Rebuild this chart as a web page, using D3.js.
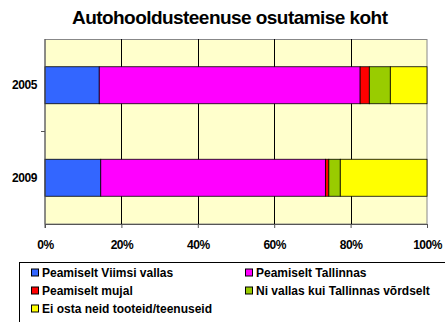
<!DOCTYPE html>
<html>
<head>
<meta charset="utf-8">
<script src="https://cdn.jsdelivr.net/npm/d3@7"></script>
<style>
  html, body { margin: 0; padding: 0; background: #fff; }
  svg { display: block; font-family: "Liberation Sans", Arial, sans-serif; }
</style>
</head>
<body>
<svg id="chart" width="445" height="322"></svg>
<script>
// Survey shares (%) per year
const years = ["2005", "2009"];
const seriesNames = [
  "Peamiselt Viimsi vallas",
  "Peamiselt Tallinnas",
  "Peamiselt mujal",
  "Ni vallas kui Tallinnas võrdselt",
  "Ei osta neid tooteid/teenuseid"
];
const viimsi   = [14.2, 14.6];
const tallinn  = [68.3, 58.8];
const mujal    = [2.4, 0.9];
const vordselt = [5.5, 3.0];
const eiOsta   = [9.6, 22.7];
const tickValues = [0, 20, 40, 60, 80, 100];
const colors = ["#3366FF", "#FF00FF", "#FF0000", "#99CC00", "#FFFF00"];

const seriesValues = [viimsi, tallinn, mujal, vordselt, eiOsta];
const rows = years.map((y, i) => {
  const r = { year: y };
  seriesNames.forEach((s, k) => { r[s] = seriesValues[k][i]; });
  return r;
});

const svg = d3.select("#chart");
const plot = { left: 45, right: 427, top: 39, bottom: 224 };

const x = d3.scaleLinear().domain([0, 100]).range([plot.left, plot.right]);
const y = d3.scaleBand().domain(years).range([plot.top, plot.bottom]).paddingInner(0.6).paddingOuter(0.3);
const band = d3.scaleBand().domain(years).range([plot.top, plot.bottom]);

// Title
svg.append("text")
  .attr("x", 230).attr("y", 24)
  .attr("text-anchor", "middle")
  .attr("font-size", 19).attr("font-weight", "bold")
  .attr("textLength", 316).attr("lengthAdjust", "spacing")
  .text("Autohooldusteenuse osutamise koht");

// Plot background
svg.append("rect")
  .attr("x", plot.left).attr("y", plot.top + 0.5)
  .attr("width", plot.right - plot.left).attr("height", plot.bottom - plot.top - 0.5)
  .attr("fill", "#FFFFCC").attr("stroke", "#888").attr("stroke-width", 1);

// Vertical gridlines
svg.append("g").selectAll("line")
  .data(tickValues.slice(1, -1))
  .join("line")
  .attr("x1", d => Math.round(x(d)) + 0.5).attr("x2", d => Math.round(x(d)) + 0.5)
  .attr("y1", plot.top).attr("y2", plot.bottom)
  .attr("stroke", "#000").attr("stroke-width", 1);

// Stacked bars
const stack = d3.stack().keys(seriesNames)(rows);
svg.append("g").selectAll("g")
  .data(stack)
  .join("g")
  .attr("fill", (d, i) => colors[i])
  .selectAll("rect")
  .data(d => d)
  .join("rect")
  .attr("x", d => x(d[0]))
  .attr("width", d => x(d[1]) - x(d[0]))
  .attr("y", d => y(d.data.year))
  .attr("height", y.bandwidth())
  .attr("stroke", "#000").attr("stroke-width", 0.8);

// X axis
const xAxis = svg.append("g")
  .attr("transform", `translate(0,${plot.bottom})`)
  .call(d3.axisBottom(x).tickValues(tickValues).tickSize(4).tickFormat(d => d + "%"));
xAxis.select(".domain").attr("stroke", "#555");
xAxis.selectAll(".tick line").attr("stroke", "#555");
xAxis.selectAll("text")
  .attr("font-family", "Liberation Sans, Arial, sans-serif")
  .attr("font-size", 12).attr("font-weight", "bold")
  .attr("letter-spacing", -0.5)
  .attr("fill", "#000").attr("y", 25).attr("dy", 0);

// Y axis: line plus a tick between the categories
const yAxis = svg.append("g").attr("transform", `translate(${plot.left},0)`);
yAxis.append("line")
  .attr("x1", 0).attr("x2", 0).attr("y1", plot.top).attr("y2", plot.bottom + 4)
  .attr("stroke", "#555");
yAxis.selectAll("line.sep")
  .data(years.slice(1))
  .join("line")
  .attr("class", "sep")
  .attr("x1", -4).attr("x2", 0)
  .attr("y1", d => band(d)).attr("y2", d => band(d))
  .attr("stroke", "#555");
yAxis.selectAll("text")
  .data(years)
  .join("text")
  .attr("x", -8)
  .attr("y", d => y(d) + y.bandwidth() / 2)
  .attr("dy", "0.35em")
  .attr("text-anchor", "end")
  .attr("font-size", 12).attr("font-weight", "bold")
  .attr("letter-spacing", -0.4)
  .text(d => d);

// Legend
const legend = svg.append("g");
legend.append("rect")
  .attr("x", 19.5).attr("y", 262.5)
  .attr("width", 440).attr("height", 80)
  .attr("fill", "#fff").attr("stroke", "#000").attr("stroke-width", 1);

const legendPos = [
  { x: 31, y: 272.5 }, { x: 245, y: 272.5 },
  { x: 31, y: 290.5 }, { x: 245, y: 290.5 },
  { x: 31, y: 308.5 }
];
const items = legend.selectAll("g.item")
  .data(seriesNames)
  .join("g")
  .attr("class", "item")
  .attr("transform", (d, i) => `translate(${legendPos[i].x},${legendPos[i].y})`);
items.append("rect")
  .attr("x", 0.5).attr("y", -3.5).attr("width", 7).attr("height", 7)
  .attr("fill", (d, i) => colors[i])
  .attr("stroke", "#000").attr("stroke-width", 1);
items.append("text")
  .attr("x", 11).attr("y", 0).attr("dy", "0.36em")
  .attr("font-size", 12).attr("font-weight", "bold")
  .text(d => d);
</script>
</body>
</html>
